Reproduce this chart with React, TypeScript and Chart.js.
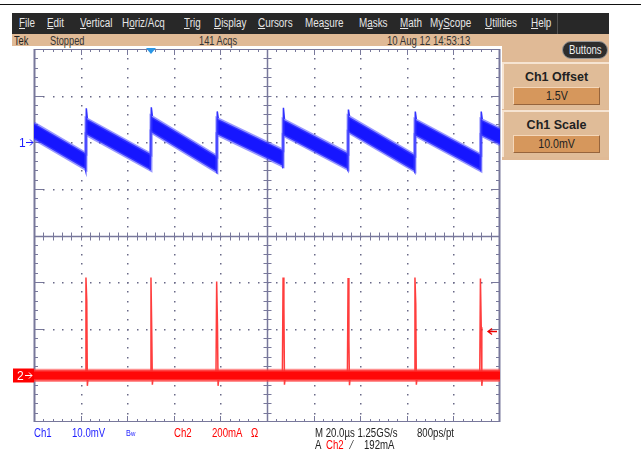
import React, { useEffect, useRef } from "react";
import { Chart, registerables } from "chart.js";

Chart.register(...registerables);

// ---------------- data ----------------
const timeMin = 0; // µs
const timeMax = 200; // µs (20 µs/div x 10 div)
const vDivs = 4; // ±4 divisions

const ch1Position = 2; // divisions above centre
const ch1Scale = 10; // mV/div
const ch2Position = -3; // divisions
const ch2Scale = 200; // mA/div
const trigLevel = 192; // mA
const trigTime = 50.2; // µs

// Ch1 sawtooth (mV relative to its marker)
const ch1RiseTimes = [22.3, 50.2, 78.5, 106.9, 134.8, 163.5, 191.8];
const ch1RampStart = [2.4, 3.4, 3.9, 3.4, 3.2, 3.9, 3.2, 3.2];
const ch1RampEnd = [-4.1, -4.3, -4.7, -3.4, -4.1, -4.5, -4.4, 1.2];
const ch1EdgePeak = [7.3, 7.5, 6.6, 7.4, 7.0, 6.6, 6.6];
const ch1EdgeDip = [-6.2, -6.0, -6.5, -5.6, -6.0, -6.4, -6.1];
const ch1Noise = 1.7; // half band, mV

// Ch2 current spikes (mA)
const ch2SpikeTimes = [22.3, 50.2, 78.4, 106.9, 134.8, 163.5, 191.6];
const ch2SpikePeak = [420, 420, 403, 420, 418, 420, 416];
const ch2SpikeShoulder = [318, 176, 210, 300, 150, 305, 206];
const ch2SpikeDip = [-45, -40, -45, -40, -42, -40, -45];
const ch2Noise = 22; // half band, mA

// -------------- UI text --------------
const menuItems = [
  ["", "F", "ile"], ["", "E", "dit"], ["", "V", "ertical"], ["H", "o", "riz/Acq"],
  ["", "T", "rig"], ["", "D", "isplay"], ["", "C", "ursors"], ["Mea", "s", "ure"],
  ["M", "a", "sks"], ["", "M", "ath"], ["My", "S", "cope"], ["", "U", "tilities"], ["", "H", "elp"],
];
const menuX = [19, 47, 80, 122, 184, 214, 258, 305, 359, 400, 430, 485, 531];

const FONT = "'Liberation Sans', Arial, sans-serif";

const d1 = (v: number) => ch1Position + v / ch1Scale;
const d2 = (v: number) => ch2Position + v / ch2Scale;

function buildCh1() {
  const starts = [timeMin, ...ch1RiseTimes];
  const ends = [...ch1RiseTimes, timeMax];
  const up: any[] = [];
  const lo: any[] = [];
  for (let k = 0; k < starts.length; k++) {
    up.push({ x: starts[k], y: d1(ch1RampStart[k] + ch1Noise) }, { x: ends[k], y: d1(ch1RampEnd[k] + ch1Noise) });
    lo.push({ x: starts[k], y: d1(ch1RampStart[k] - ch1Noise) }, { x: ends[k], y: d1(ch1RampEnd[k] - ch1Noise) });
  }
  const edge: any[] = [];
  ch1RiseTimes.forEach((t, i) => {
    edge.push(
      { x: t - 0.3, y: d1(ch1RampEnd[i] - ch1Noise) },
      { x: t - 0.1, y: d1(ch1EdgeDip[i]) },
      { x: t + 0.15, y: d1(ch1EdgePeak[i]) },
      { x: t + 0.6, y: d1(ch1RampStart[i + 1] + ch1Noise) },
      { x: t + 0.6, y: null }
    );
  });
  return { up, lo, edge };
}

function buildCh2() {
  const up = [{ x: timeMin, y: d2(ch2Noise) }, { x: timeMax, y: d2(ch2Noise) }];
  const lo = [{ x: timeMin, y: d2(-ch2Noise) }, { x: timeMax, y: d2(-ch2Noise) }];
  const sp: any[] = [];
  ch2SpikeTimes.forEach((t, i) => {
    sp.push(
      { x: t - 0.3, y: d2(0) },
      { x: t, y: d2(ch2SpikePeak[i]) },
      { x: t + 0.35, y: d2(ch2SpikeShoulder[i]) },
      { x: t + 0.6, y: d2(ch2SpikeDip[i]) },
      { x: t + 1.0, y: d2(0) },
      { x: t + 1.0, y: null }
    );
  });
  return { up, lo, sp };
}

const gratPlugin = {
  id: "graticule",
  beforeDatasetsDraw(chart: any) {
    const { ctx, chartArea: a, scales } = chart;
    const px = (v: number) => scales.x.getPixelForValue(v);
    const py = (v: number) => scales.y.getPixelForValue(v);
    const xDiv = (timeMax - timeMin) / 10;
    ctx.save();
    ctx.fillStyle = "rgb(105,105,135)";
    for (let i = 1; i < 10; i++) {
      if (i === 5) continue;
      const x = Math.round(px(timeMin + i * xDiv));
      for (let j = 1; j < vDivs * 10; j++) {
        const y = Math.round(py(-vDivs + j * 0.2));
        ctx.fillRect(x, y, 1.5, 1.5);
      }
    }
    for (let j = 1; j < vDivs * 2; j++) {
      if (j === vDivs) continue;
      const y = Math.round(py(-vDivs + j));
      for (let i = 1; i < 50; i++) {
        const x = Math.round(px(timeMin + i * xDiv / 5));
        ctx.fillRect(x, y, 1.5, 1.5);
      }
    }
    const col = "rgb(120,120,155)";
    ctx.strokeStyle = col;
    const cx = Math.round(px((timeMin + timeMax) / 2)) + 0.5;
    const cy = Math.round(py(0)) + 0.5;
    ctx.lineWidth = 1.5;
    ctx.beginPath();
    ctx.moveTo(a.left, cy); ctx.lineTo(a.right, cy);
    ctx.moveTo(cx, a.top); ctx.lineTo(cx, a.bottom);
    ctx.stroke();
    ctx.lineWidth = 1;
    ctx.beginPath();
    for (let i = 1; i < 50; i++) {
      const x = Math.round(px(timeMin + i * xDiv / 5)) + 0.5;
      ctx.moveTo(x, cy - 4); ctx.lineTo(x, cy + 4);
      const L = i % 5 === 0 ? 6 : 3;
      ctx.moveTo(x, a.top); ctx.lineTo(x, a.top + L);
      ctx.moveTo(x, a.bottom); ctx.lineTo(x, a.bottom - L);
    }
    for (let j = 1; j < vDivs * 10; j++) {
      const y = Math.round(py(-vDivs + j * 0.2)) + 0.5;
      ctx.moveTo(cx - 4, y); ctx.lineTo(cx + 4, y);
      const L = j % 5 === 0 ? 9 : 4;
      ctx.moveTo(a.left, y); ctx.lineTo(a.left + L, y);
      ctx.moveTo(a.right, y); ctx.lineTo(a.right - L, y);
    }
    ctx.stroke();
    ctx.lineWidth = 2;
    ctx.beginPath();
    ctx.moveTo(a.left + 0.5, a.top); ctx.lineTo(a.left + 0.5, a.bottom);
    ctx.moveTo(a.right - 0.5, a.top); ctx.lineTo(a.right - 0.5, a.bottom);
    ctx.stroke();
    ctx.lineWidth = 1;
    ctx.beginPath();
    ctx.moveTo(a.left, a.top + 0.5); ctx.lineTo(a.right, a.top + 0.5);
    ctx.moveTo(a.left, a.bottom - 0.5); ctx.lineTo(a.right, a.bottom - 0.5);
    ctx.stroke();
    ctx.restore();
  },
  afterDraw(chart: any) {
    const { ctx, chartArea: a, scales } = chart;
    const px = (v: number) => scales.x.getPixelForValue(v);
    const py = (v: number) => scales.y.getPixelForValue(v);
    ctx.save();
    const y1 = Math.round(py(ch1Position)) + 0.5;
    ctx.fillStyle = "rgb(30,30,255)";
    ctx.strokeStyle = "rgb(30,30,255)";
    ctx.font = `12px ${FONT}`;
    ctx.textBaseline = "middle";
    ctx.fillText("1", a.left - 15, y1 + 1);
    ctx.lineWidth = 1;
    ctx.beginPath();
    ctx.moveTo(a.left - 8, y1); ctx.lineTo(a.left - 1, y1);
    ctx.moveTo(a.left - 4, y1 - 3); ctx.lineTo(a.left - 1, y1); ctx.lineTo(a.left - 4, y1 + 3);
    ctx.stroke();
    const y2 = Math.round(py(ch2Position)) + 0.5;
    ctx.fillStyle = "rgb(255,0,0)";
    ctx.fillRect(a.left - 21, y2 - 7, 21, 14);
    ctx.fillStyle = "#fff";
    ctx.strokeStyle = "#fff";
    ctx.fillText("2", a.left - 17, y2 + 1);
    ctx.beginPath();
    ctx.moveTo(a.left - 9, y2); ctx.lineTo(a.left - 2, y2);
    ctx.moveTo(a.left - 5, y2 - 3); ctx.lineTo(a.left - 2, y2); ctx.lineTo(a.left - 5, y2 + 3);
    ctx.stroke();
    const yt = Math.round(py(d2(trigLevel))) + 0.5;
    ctx.strokeStyle = "rgb(235,0,0)";
    ctx.lineWidth = 1.3;
    ctx.beginPath();
    ctx.moveTo(a.right - 12, yt); ctx.lineTo(a.right - 3, yt);
    ctx.moveTo(a.right - 8, yt - 3); ctx.lineTo(a.right - 12, yt); ctx.lineTo(a.right - 8, yt + 3);
    ctx.stroke();
    const xt = px(trigTime);
    ctx.fillStyle = "rgb(40,150,230)";
    ctx.beginPath();
    ctx.moveTo(xt - 5, a.top - 1); ctx.lineTo(xt + 5, a.top - 1); ctx.lineTo(xt, a.top + 5);
    ctx.closePath();
    ctx.fill();
    ctx.restore();
  },
};

const txt = (left: number, top: number, text: any, color: string, size = 12.5, sx = 0.77) => (
  <div style={{ position: "absolute", left, top, color, fontSize: size, lineHeight: "13px", whiteSpace: "nowrap", transform: `scaleX(${sx})`, transformOrigin: "0 0" }}>{text}</div>
);

function PanelButton({ top, title, value }: { top: number; title: string; value: string }) {
  return (
    <div style={{ position: "absolute", left: 502, top, width: 107, height: 47, background: "rgb(224,188,152)", borderTop: "2px solid rgb(246,228,210)", borderLeft: "2px solid rgb(246,228,210)", boxSizing: "border-box" }}>
      <div style={{ position: "absolute", left: 0, width: 105, top: 6, textAlign: "center", fontWeight: "bold", fontSize: 12.5, color: "#222" }}>{title}</div>
      <div style={{ position: "absolute", left: 9, top: 23, width: 87, height: 18, boxSizing: "border-box", background: "rgb(214,151,92)", borderTop: "1px solid rgb(245,215,185)", borderLeft: "1px solid rgb(245,215,185)", borderBottom: "1px solid rgb(150,100,60)", borderRight: "1px solid rgb(150,100,60)", textAlign: "center", fontSize: 12.5, lineHeight: "16px", color: "#222" }}>
        <span style={{ display: "inline-block", transform: "scaleX(0.85)" }}>{value}</span>
      </div>
    </div>
  );
}

export default function App() {
  const ref = useRef<HTMLCanvasElement>(null);
  useEffect(() => {
    const c1 = buildCh1();
    const c2 = buildCh2();
    const chart = new Chart(ref.current as HTMLCanvasElement, {
      type: "line",
      data: {
        datasets: [
          { data: c2.up, borderColor: "rgba(255,70,70,0.6)", borderWidth: 3, fill: false, pointRadius: 0 },
          { data: c2.lo, borderColor: "rgba(255,70,70,0.6)", borderWidth: 3, fill: "-1", backgroundColor: "rgb(255,8,8)", pointRadius: 0 },
          { data: c2.sp, borderColor: "rgba(255,40,40,0.9)", borderWidth: 1.5, fill: false, pointRadius: 0, spanGaps: false },
          { data: c1.up, borderColor: "rgba(70,70,255,0.55)", borderWidth: 3, fill: false, pointRadius: 0 },
          { data: c1.lo, borderColor: "rgba(70,70,255,0.55)", borderWidth: 3, fill: "-1", backgroundColor: "rgb(22,22,255)", pointRadius: 0 },
          { data: c1.edge, borderColor: "rgba(40,40,255,0.95)", borderWidth: 1.5, fill: false, pointRadius: 0, spanGaps: false },
        ] as any,
      },
      options: {
        animation: false,
        responsive: false,
        maintainAspectRatio: false,
        layout: { padding: { left: 34, right: 141, top: 49, bottom: 31 } },
        plugins: { legend: { display: false }, tooltip: { enabled: false } },
        elements: { line: { tension: 0 }, point: { radius: 0 } },
        scales: {
          x: { type: "linear", min: timeMin, max: timeMax, display: false },
          y: { type: "linear", min: -vDivs, max: vDivs, display: false },
        },
      },
      plugins: [gratPlugin],
    });
    return () => chart.destroy();
  }, []);

  return (
    <div style={{ position: "fixed", left: 0, top: 0, width: 641, height: 453, background: "#fff", overflow: "hidden", fontFamily: FONT }}>
      <div style={{ position: "absolute", left: 0, top: 4, width: 641, height: 1, background: "#111" }} />
      <div style={{ position: "absolute", left: 12, top: 13, width: 597, height: 21, background: "rgb(40,40,40)" }} />
      <div style={{ position: "absolute", left: 557, top: 13, width: 1, height: 21, background: "rgb(80,80,80)" }} />
      {menuItems.map((m, i) => (
        <div key={i} style={{ position: "absolute", left: menuX[i], top: 16, color: "#e6e6e6", fontSize: 12.5, lineHeight: "14px", whiteSpace: "nowrap", transform: "scaleX(0.79)", transformOrigin: "0 0" }}>
          {m[0]}<u>{m[1]}</u>{m[2]}
        </div>
      ))}
      <div style={{ position: "absolute", left: 12, top: 34, width: 597, height: 12, background: "rgb(224,186,150)" }} />
      <div style={{ position: "absolute", left: 502, top: 34, width: 107, height: 126, background: "rgb(224,186,150)" }} />
      {txt(14, 34.5, "Tek", "#222", 12)}
      {txt(50, 34.5, "Stopped", "#333", 12)}
      {txt(199, 34.5, "141 Acqs", "#333", 12)}
      {txt(387, 34.5, "10 Aug 12 14:53:13", "#333", 12, 0.8)}
      <div style={{ position: "absolute", left: 562, top: 41, width: 46, height: 18, boxSizing: "border-box", borderRadius: 9, background: "rgb(45,45,45)", border: "1px solid rgb(150,150,150)", color: "#f0f0f0", fontSize: 12, lineHeight: "16px", textAlign: "center" }}>
        <span style={{ display: "inline-block", transform: "scaleX(0.8)" }}>Buttons</span>
      </div>
      <PanelButton top={62} title="Ch1 Offset" value="1.5V" />
      <PanelButton top={110} title="Ch1 Scale" value="10.0mV" />
      <canvas ref={ref} width={641} height={453} style={{ position: "absolute", left: 0, top: 0, width: 641, height: 453 }} />
      {txt(34, 427, "Ch1", "rgb(30,30,255)")}
      {txt(72, 427, "10.0mV", "rgb(30,30,255)")}
      {txt(126, 426, <span>B<span style={{ fontSize: 8 }}>w</span></span>, "rgb(30,30,255)", 9.5)}
      {txt(174, 427, "Ch2", "rgb(255,0,0)")}
      {txt(212, 427, "200mA", "rgb(255,0,0)")}
      {txt(251, 427, "Ω", "rgb(255,0,0)")}
      {txt(315, 427, "M 20.0µs 1.25GS/s", "#222")}
      {txt(417, 427, "800ps/pt", "#222")}
      {txt(315, 439, "A", "#222")}
      {txt(326, 439, "Ch2", "rgb(255,0,0)")}
      {txt(351, 439, "⁄", "#222")}
      {txt(364, 439, "192mA", "#222")}
    </div>
  );
}
